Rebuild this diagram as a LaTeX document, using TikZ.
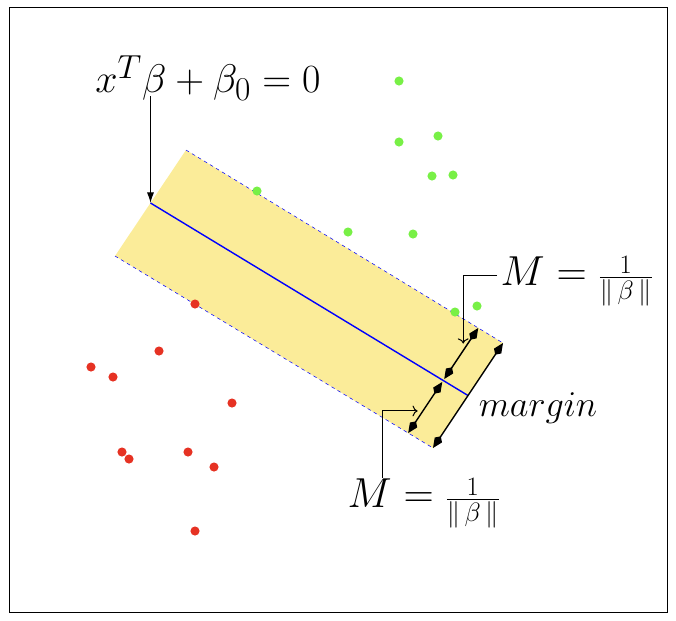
\documentclass[tikz,border=0pt]{standalone}
\usepackage{amsmath,graphicx}
\usetikzlibrary{arrows.meta,calc}

\definecolor{bandyellow}{RGB}{251,236,153}
\definecolor{ptgreen}{RGB}{120,240,70}
\definecolor{ptred}{RGB}{230,50,35}

\newcommand{\mfrac}{\scalebox{0.76}{$\frac{1}{\|\,\beta\,\|}$}}

\tikzset{
  lbl/.style={font=\Huge, inner sep=2pt},
  mrg/.style={{Kite[length=8pt,width=5pt,inset=2.5pt]}-{Kite[length=8pt,width=5pt,inset=2.5pt]}, line width=0.8pt},
  pin/.style={->, line width=0.6pt}
}

\begin{document}
\begin{tikzpicture}[x=0.02cm,y=-0.02cm]
    \useasboundingbox (0,0) rectangle (676,620);
    \draw[line width=0.5pt] (9,7) rectangle (667,612);
    % band corners
    \coordinate (tl) at (186,150);
    \coordinate (bl) at (115,256);
    \coordinate (br) at (433,448);
    \coordinate (tr) at (503,343);
    \fill[bandyellow] (tl) -- (tr) -- (br) -- (bl) -- cycle;
    \draw[blue, dash pattern=on 2pt off 2pt, line width=0.3pt] (tl) -- (tr) (bl) -- (br);
    % separating line
    \coordinate (hl) at ($(tl)!0.5!(bl)$);
    \coordinate (hr) at ($(tr)!0.5!(br)$);
    \draw[blue, line width=0.8pt] (hl) -- (hr);
    % margin arrows
    \coordinate (ib) at ($(br)!0.078!(bl)$);
    \coordinate (it) at ($(tr)!0.078!(tl)$);
    \coordinate (ic) at ($(ib)!0.5!(it)$);
    \draw[mrg] (br) -- (tr);
    \draw[mrg, shorten >=1pt] (ib) -- (ic);
    \draw[mrg, shorten <=1pt] (ic) -- (it);
    % points
    \foreach \p in {(399,81),(399,142),(438,136),(432,176),(453,175),(257,191),(348,232),(413,234),(455,312),(477,306)}
        \fill[ptgreen] \p circle[radius=2.6pt];
    \foreach \p in {(195,304),(159,351),(91,367),(113,377),(232,403),(122,452),(129,459),(188,452),(214,467),(195,531)}
        \fill[ptred] \p circle[radius=2.6pt];
    % labels
    \node[lbl, scale=0.915] (hyp) at (208,78) {$x^T\beta+\beta_0=0$};
    \draw[-{Latex[length=6pt,width=4pt]}, line width=0.6pt] ([yshift=-2pt]hl |- hyp.base) -- (hl);
    \node[lbl, scale=0.96, anchor=west] (mtop) at (497,281) {$M=\mfrac$};
    \draw[pin, shorten >=4pt] ([yshift=3pt]mtop.west) -| ($(ic)!0.57!(it)$);
    \node[lbl, scale=0.96, anchor=west] (mbot) at (344,503) {$M=\mfrac$};
    \draw[pin, shorten >=3pt] ([xshift=22pt,yshift=-2pt]mbot.north west) |- ($(ib)!0.42!(ic)$);
    \node[lbl, scale=0.83] (mlab) at (538,408) {$margin$};
\end{tikzpicture}
\end{document}
